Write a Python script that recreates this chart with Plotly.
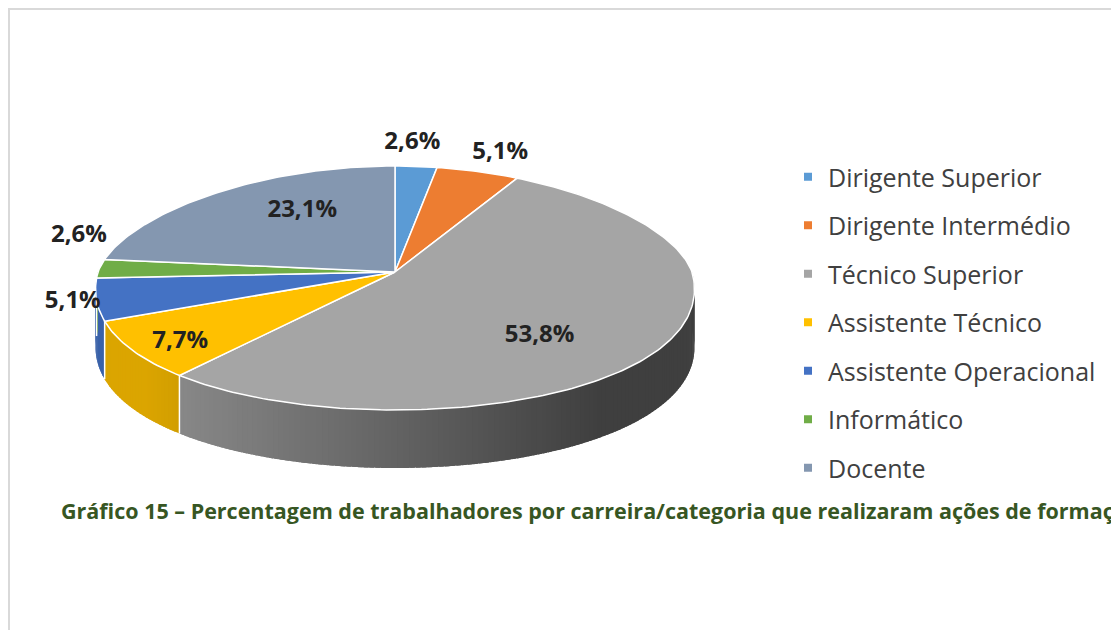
import numpy as np
import plotly.graph_objects as go

# ---------------- data ----------------
categories = ["Dirigente Superior", "Dirigente Intermédio", "Técnico Superior",
              "Assistente Técnico", "Assistente Operacional", "Informático", "Docente"]
percentages = [2.6, 5.1, 53.8, 7.7, 5.1, 2.6, 23.1]
title_text = ("Gráfico 15 – Percentagem de trabalhadores por carreira/categoria "
              "que realizaram ações de formação")

# ---------------- style ----------------
colors = ["#5B9BD5", "#ED7D31", "#A5A5A5", "#FFC000", "#4472C4", "#70AD47", "#8497B0"]
label_r = [1.2, 1.15, 0.6, 0.85, 1.2, 1.05, 0.6]
label_shift = [(-8, -2), (10, -3), (-13, 17), (8, 3), (36, -4), (-6, -32), (14, -13)]

OFF = 8                    # page body margin
W, H = 1119 - OFF, 630 - OFF
CX, CY = 395, 272          # apex of the pie (top face), in screen pixels
RX, RYT, RYB = 297, 106, 138
K = 0.13                   # perspective narrowing at the back
DEPTH = 58
FONT = "Open Sans"


def proj(theta_deg, r=1.0):
    t = np.radians(np.asarray(theta_deg, dtype=float))
    s, c = np.sin(t), np.cos(t)
    x = CX + r * RX * s * (1 - K * c)
    ry = np.where(c > 0, RYT, RYB)
    y = CY - r * ry * c
    return x, y


def shade(hex_color, f):
    h = hex_color.lstrip("#")
    rgb = [int(h[i:i + 2], 16) for i in (0, 2, 4)]
    return "rgb({},{},{})".format(*[max(0, min(255, int(round(v * f)))) for v in rgb])


def side_factor(x):
    return float(np.clip(0.82 - 0.44 * (x - 180) / 420, 0.38, 0.86))


total = sum(percentages)
angles = np.cumsum([0] + [p / total * 360 for p in percentages])

fig = go.Figure()

# ---- side walls (visible front half, 90..270 deg) ----
for i, col in enumerate(colors):
    a0, a1 = angles[i], angles[i + 1]
    lo, hi = max(a0, 90), min(a1, 270)
    if hi <= lo:
        continue
    n = max(1, int(np.ceil((hi - lo) / 1.0)))
    edges = np.linspace(lo, hi, n + 1)
    for j in range(n):
        t_end = min(edges[j + 1] + 0.8, hi)
        ts = np.linspace(edges[j], t_end, 4)
        xt, yt = proj(ts)
        xs = list(xt) + list(xt[::-1]) + [xt[0]]
        ys = list(yt) + list((yt + DEPTH)[::-1]) + [yt[0]]
        c = shade(col, side_factor(float(np.mean(xt))))
        fig.add_trace(go.Scatter(x=xs, y=ys, mode="lines", fill="toself",
                                 fillcolor=c, line=dict(width=0),
                                 hoverinfo="skip", showlegend=False))

# white seams between side walls
for a in angles[1:-1]:
    if 90 < a < 270:
        xa, ya = proj(a)
        fig.add_trace(go.Scatter(x=[float(xa), float(xa)], y=[float(ya), float(ya) + DEPTH],
                                 mode="lines", line=dict(color="white", width=1.5),
                                 hoverinfo="skip", showlegend=False))

# ---- top faces ----
for i, col in enumerate(colors):
    a0, a1 = angles[i], angles[i + 1]
    ts = np.linspace(a0, a1, max(3, int((a1 - a0) / 1.0) + 2))
    xt, yt = proj(ts)
    xs = [CX] + list(xt) + [CX]
    ys = [CY] + list(yt) + [CY]
    fig.add_trace(go.Scatter(x=xs, y=ys, mode="lines", fill="toself",
                             fillcolor=col, line=dict(color="white", width=1.5),
                             hoverinfo="skip", showlegend=False))

# ---- data labels ----
mids = (angles[:-1] + angles[1:]) / 2
lx, ly = [], []
for i, m in enumerate(mids):
    x, y = proj(m, label_r[i])
    lx.append(float(x) + label_shift[i][0])
    ly.append(float(y) + label_shift[i][1])
fig.add_trace(go.Scatter(
    x=lx, y=ly, mode="text",
    text=[f"{p:.1f}%".replace(".", ",") for p in percentages],
    textfont=dict(family=FONT, size=24, color="#222222", weight="bold"),
    hoverinfo="skip", showlegend=False))

# ---- legend entries ----
for i, (cat, col) in enumerate(zip(categories, colors)):
    fig.add_trace(go.Scatter(x=[None], y=[None], mode="markers", name=cat,
                             marker=dict(symbol="square", size=8, color=col),
                             legendgroup=f"g{i}", showlegend=True))

fig.add_annotation(x=59, y=510, xref="x", yref="y", xanchor="left", yanchor="middle",
                   text=title_text, showarrow=False,
                   font=dict(family=FONT, size=21.5, color="#375623", weight="bold"))

fig.add_shape(type="rect", xref="x", yref="y", x0=9, y0=9, x1=1160, y1=680,
              line=dict(color="#d9d9d9", width=2), fillcolor="rgba(0,0,0,0)")

fig.update_layout(
    width=W, height=H,
    margin=dict(l=0, r=0, t=0, b=0),
    paper_bgcolor="white", plot_bgcolor="white",
    xaxis=dict(range=[OFF, OFF + W], visible=False, fixedrange=True),
    yaxis=dict(range=[OFF + H, OFF], visible=False, fixedrange=True),
    showlegend=True,
    legend=dict(x=(788 - OFF) / W, xanchor="left", y=1 - (154 - OFF) / H, yanchor="top",
                font=dict(family=FONT, size=25, color="#404040"),
                tracegroupgap=13, bgcolor="rgba(0,0,0,0)", itemclick=False),
)

fig.write_html("out.html")
